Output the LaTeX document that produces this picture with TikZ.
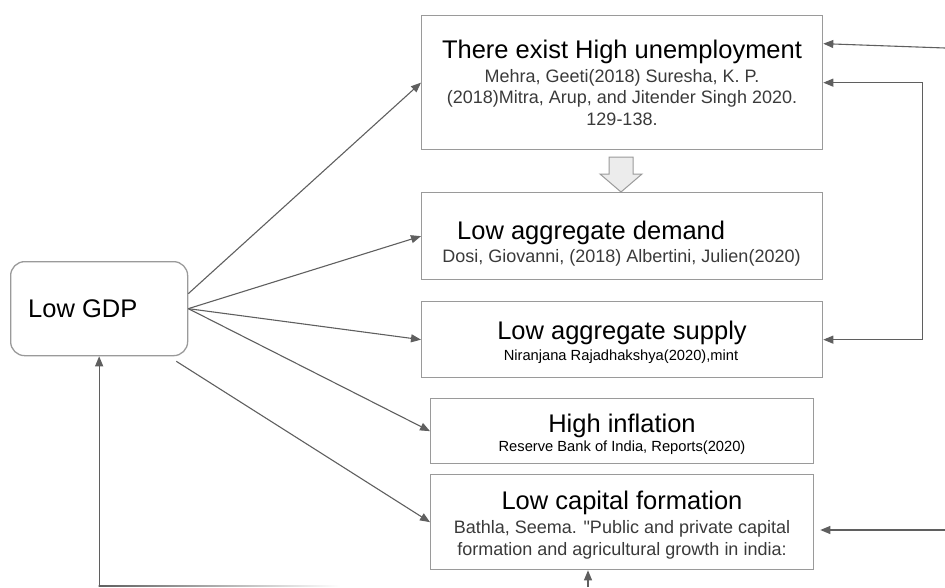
\documentclass[tikz,border=0pt]{standalone}
\usepackage{fontspec}
\setmainfont{Liberation Sans}
\usetikzlibrary{arrows.meta}
\definecolor{boxgray}{HTML}{9A9A9A}
\definecolor{linkgray}{HTML}{5F5F5F}
\definecolor{citegray}{HTML}{3A3A3A}
\tikzset{
  box/.style={draw=boxgray,line width=1.3pt,anchor=north west,inner sep=0pt},
  headline/.style={anchor=base,inner sep=0pt,font=\fontsize{25.5}{30}\selectfont},
  cite/.style={anchor=base,inner sep=0pt,text=citegray,font=\fontsize{18}{21}\selectfont},
  smallcite/.style={anchor=base,inner sep=0pt,font=\fontsize{14.7}{17}\selectfont},
  link/.style={draw=linkgray,line width=1.1pt,-{Triangle[length=10pt,width=8pt]}}
}

\begin{document}
\begin{tikzpicture}[x=1pt,y=-1pt]
    \useasboundingbox (0,0) rectangle (945,587);
    % left box
    \node[box,rounded corners=14pt,minimum width=177pt,minimum height=94pt] (gdp) at (10,261) {};
    \node[headline,anchor=base west] (gdpT) at (28,317) {Low GDP};

    % boxes on the right
    \node[box,minimum width=401pt,minimum height=134pt] (unemp) at (421,15) {};
    \node[headline] (unempT) at (622,58.5) {There exist High unemployment};
    \node[cite] (unempA) at (622,82) {Mehra, Geeti(2018) Suresha, K. P.};
    \node[cite] (unempB) at (622,103.5) {(2018)Mitra, Arup, and Jitender Singh 2020.};
    \node[cite] (unempC) at (622,125) {129-138.};

    \node[box,minimum width=401pt,minimum height=87pt] (demand) at (421,192) {};
    \node[headline,anchor=base west] (demandT) at (457,239) {Low aggregate demand};
    \node[cite] (demandA) at (621.5,262) {Dosi, Giovanni, (2018) Albertini, Julien(2020)};

    \node[box,minimum width=401pt,minimum height=76pt] (supply) at (421,301) {};
    \node[headline] (supplyT) at (622,339) {Low aggregate supply};
    \node[smallcite] (supplyA) at (621,360) {Niranjana Rajadhakshya(2020),mint};

    \node[box,minimum width=383pt,minimum height=65pt] (inflation) at (430,398) {};
    \node[headline] (inflationT) at (622,432) {High inflation};
    \node[smallcite] (inflationA) at (622,451) {Reserve Bank of India, Reports(2020)};

    \node[box,minimum width=383pt,minimum height=95pt] (capital) at (430,474) {};
    \node[headline] (capitalT) at (622,509) {Low capital formation};
    \node[cite] (capitalA) at (622,533) {Bathla, Seema. \textquotedbl Public and private capital};
    \node[cite] (capitalB) at (622,555) {formation and agricultural growth in india:};

    % hollow arrow
    \draw[boxgray,line width=1pt,fill=gray!15] (609,157) -- (633,157) -- (633,174) -- (642,174)
        -- (621,192) -- (600,174) -- (609,174) -- cycle;

    % arrows from Low GDP
    \draw[link] ([yshift=15pt]gdp.east) -- (unemp.west);
    \draw[link] (gdp.east) -- (demand.west);
    \draw[link] (gdp.east) -- (supply.west);
    \draw[link] (gdp.east) -- (inflation.west);
    \draw[link] ([xshift=-12pt,yshift=-5pt]gdp.south east) -- (capital.west);

    % feedback lines
    \coordinate (feedA) at (945,48);
    \coordinate (feedC) at (945,530);
    \coordinate (loopA) at (340,586);
    \coordinate (loopB) at (588,587);
    \draw[link] (feedA) -- ([yshift=39pt]unemp.east);
    \draw[link,{Triangle[length=10pt,width=8pt]}-{Triangle[length=10pt,width=8pt]}] (supply.east) -- ++(99,0) |- (unemp.east);
    \draw[link] (feedC) -- ([xshift=6pt]capital.east |- feedC);
    \shade[left color=linkgray,right color=white] ([xshift=-0.55pt,yshift=0.55pt]gdp.south |- loopA) rectangle ([yshift=-0.55pt]loopA);
    \draw[link] (gdp.south |- loopA) -- (gdp.south);
    \draw[link] (loopB) -- (capital.south -| loopB);
\end{tikzpicture}
\end{document}
